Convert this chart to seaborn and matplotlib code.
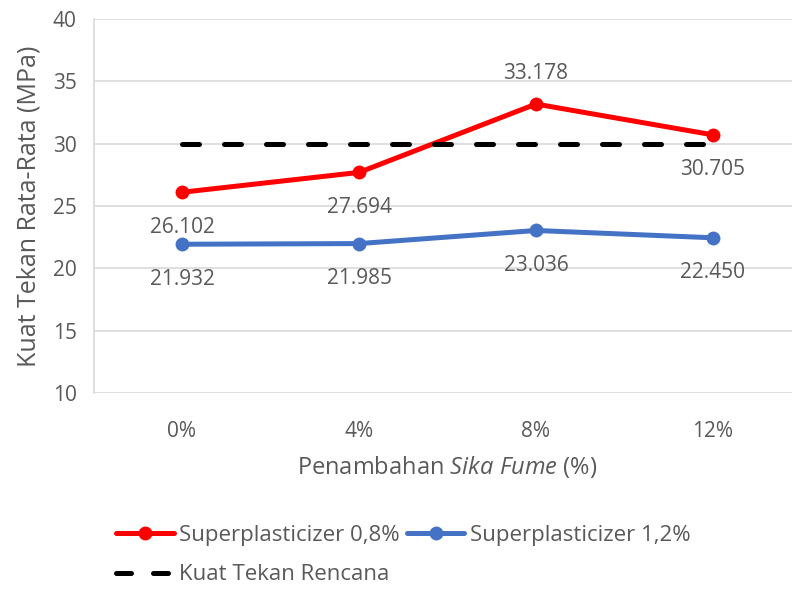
import pandas as pd
import seaborn as sns
import numpy as np
import matplotlib.pyplot as plt
from matplotlib.lines import Line2D

# data
kategori = ['0%', '4%', '8%', '12%']
sp_08 = [26.102, 27.694, 33.178, 30.705]
sp_12 = [21.932, 21.985, 23.036, 22.450]
rencana = [30, 30, 30, 30]
nama_seri = ['Superplasticizer 0,8%', 'Superplasticizer 1,2%', 'Kuat Tekan Rencana']
label_atas_08 = [False, False, True, False]   # which red labels sit above the point

sns.set_theme(style='white')
plt.rcParams['font.family'] = ['Open Sans', 'DejaVu Sans']
plt.rcParams['mathtext.fontset'] = 'custom'
plt.rcParams['mathtext.rm'] = 'Open Sans'
plt.rcParams['mathtext.it'] = 'Open Sans:italic'

abu = '#595959'
grid = '#D9D9D9'
merah = '#FF0000'
biru = '#4472C4'

df = pd.DataFrame({
    'x': kategori * 2,
    'y': sp_08 + sp_12,
    'seri': [nama_seri[0]] * 4 + [nama_seri[1]] * 4,
})

fig = plt.figure(figsize=(7.92, 5.9), dpi=100)
ax = fig.add_axes([93.5 / 792, 1 - 393 / 590, (801.5 - 93.5) / 792, (393 - 19) / 590])

sns.lineplot(data=df, x='x', y='y', hue='seri', palette=[merah, biru], marker='o',
             markersize=10, markeredgewidth=0, linewidth=3.6, sort=False,
             legend=False, ax=ax)
sns.lineplot(x=kategori, y=rencana, color='black', linewidth=3.6, sort=False,
             linestyle=(0, (3.4, 5)), dash_capstyle='round', ax=ax)

# data labels
for i, v in enumerate(sp_08):
    dy = 31 if label_atas_08[i] else -35
    ax.annotate(f'{v:.3f}', (i, v), xytext=(0, dy), textcoords='offset pixels',
                ha='center', va='center', fontsize=15, color=abu)
for i, v in enumerate(sp_12):
    ax.annotate(f'{v:.3f}', (i, v), xytext=(0, -35), textcoords='offset pixels',
                ha='center', va='center', fontsize=15, color=abu)

ax.set_xlim(-0.5, 3.5)
ax.set_ylim(10, 40)
ax.set_yticks(range(10, 41, 5))
ax.yaxis.grid(True, color=grid, linewidth=1.2)
ax.set_axisbelow(True)
for s in ['top', 'right', 'bottom']:
    ax.spines[s].set_visible(False)
ax.spines['left'].set_color(grid)
ax.spines['left'].set_linewidth(1.2)
ax.tick_params(length=0, labelsize=15, labelcolor=abu)
ax.tick_params(axis='x', pad=20)
ax.tick_params(axis='y', pad=12)

ax.set_xlabel(r'Penambahan $\it{Sika\ Fume}$ (%)', fontsize=17, color=abu, labelpad=9)
ax.set_ylabel('Kuat Tekan Rata-Rata (MPa)', fontsize=18, color=abu, labelpad=8)

garis = ax.get_lines()
# legend swatch for the dashed line: two equal dashes like the original
garis_rencana = Line2D([], [], color='black', linewidth=3.6,
                       linestyle=(0, (3.0, 4.4)), dash_capstyle='round')
# column-major fill: first column red + black, second column blue
fig.legend(handles=[garis[0], garis_rencana, garis[1]],
           labels=[nama_seri[0], nama_seri[2], nama_seri[1]], ncol=2,
           loc='center left', bbox_to_anchor=(116 / 792, 1 - 555 / 590),
           frameon=False, fontsize=16, labelcolor=abu, handlelength=2.6,
           handletextpad=0.25, columnspacing=0.3, borderpad=0, borderaxespad=0,
           labelspacing=0.85)

fig.savefig('out.png', dpi=100)
